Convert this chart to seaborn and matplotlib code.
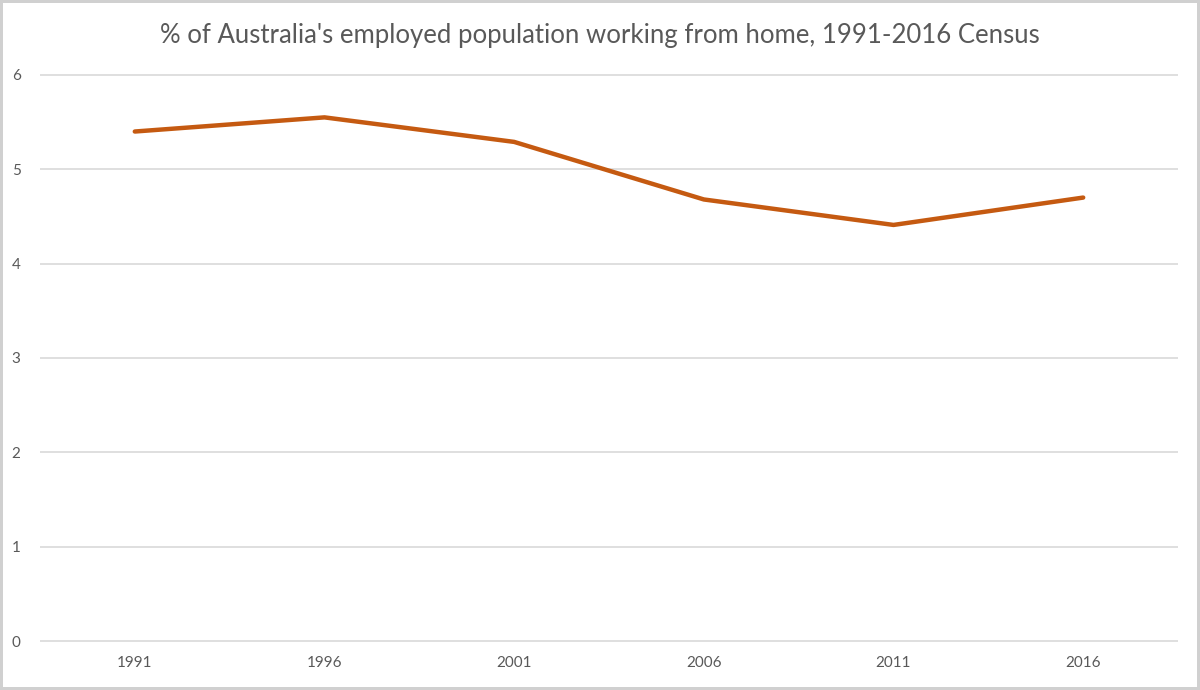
import pandas as pd
import matplotlib.pyplot as plt
import seaborn as sns

# Census years and % working from home
years = ["1991", "1996", "2001", "2006", "2011", "2016"]
wfh_pct = [5.40, 5.55, 5.29, 4.68, 4.41, 4.70]
y_ticks = [0, 1, 2, 3, 4, 5, 6]

title = "% of Australia's employed population working from home, 1991-2016 Census"

sns.set_theme(style="white")
plt.rcParams['font.family'] = ['Lato', 'DejaVu Sans']

df = pd.DataFrame({"year": years, "pct": wfh_pct})

fig = plt.figure(figsize=(12, 6.9), dpi=100)
fig.patch.set_edgecolor("#d0d0d0")
fig.patch.set_linewidth(3)
ax = fig.add_axes([0.0333, 0.0696, 0.9484, 0.8232])

sns.lineplot(data=df, x="year", y="pct", ax=ax, color="#c55a11", linewidth=3.2, sort=False)

ax.set_xlim(-0.5, len(years) - 0.5)
ax.set_ylim(-0.01, 6.01)
ax.set_yticks(y_ticks)
ax.grid(axis="y", color="#d9d9d9", linewidth=1.2)
ax.set_axisbelow(True)
for side in ["top", "right", "left", "bottom"]:
    ax.spines[side].set_visible(False)
ax.tick_params(axis="both", length=0, labelsize=11, labelcolor="#595959")
ax.tick_params(axis="y", pad=14)
ax.tick_params(axis="x", pad=10)
ax.set_xlabel("")
ax.set_ylabel("")

fig.text(0.5, 0.948, title, ha="center", va="center", fontsize=18.5, color="#595959")

fig.savefig("out.png", dpi=100)
